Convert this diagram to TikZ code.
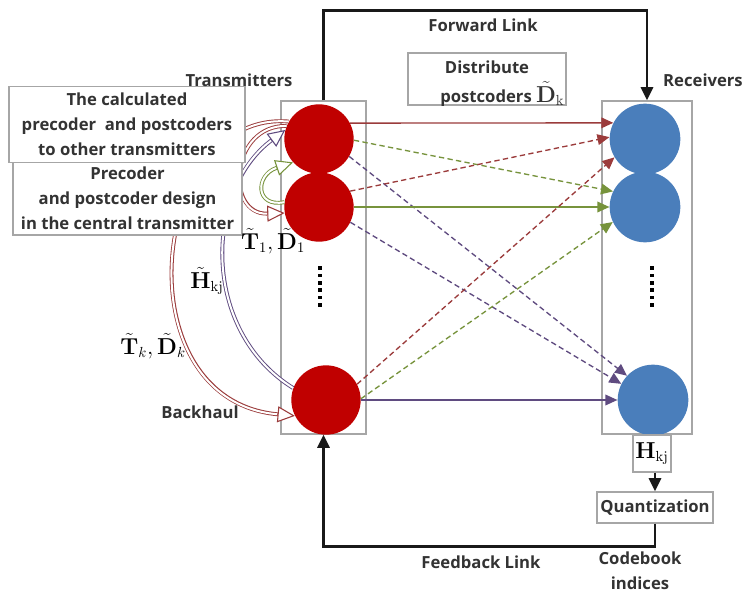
\documentclass[tikz,border=0pt]{standalone}
\usepackage{amsmath}
\usepackage[no-math]{fontspec}
\setmainfont{Open Sans}
\usetikzlibrary{arrows.meta}
\definecolor{tred}{HTML}{C00000}
\definecolor{rblue}{HTML}{4A7EBB}
\definecolor{ared}{HTML}{9B3B3B}
\definecolor{agreen}{HTML}{77933C}
\definecolor{apurple}{HTML}{5F4B80}
\definecolor{bgray}{HTML}{A6A6A6}
\definecolor{txt}{HTML}{333333}
\tikzset{
  gbox/.style={draw=bgray, line width=0.8pt, inner sep=0pt},
  txc/.style={circle, fill=tred, minimum size=52pt, inner sep=0pt},
  rxc/.style={circle, fill=rblue, minimum size=53pt, inner sep=0pt},
  lbl/.style={text=txt, font=\fontsize{12.5}{18.75}\selectfont\bfseries, inner sep=0pt, align=center},
  mlbl/.style={text=black, font=\fontsize{16}{18}\selectfont, inner sep=0pt},
  link/.style={line width=1pt, -{Triangle[length=9pt,width=8pt]}},
  dlink/.style={link, dash pattern=on 4pt off 2.5pt},
  bh/.style={draw=#1, line width=2.9pt,
     -{Triangle[open, length=13pt, width=12pt, fill=white, line width=0.8pt]},
     postaction={draw=white, line width=1.5pt, -, shorten >=13.3pt}},
  blk/.style={line width=2.2pt, draw=black!90, -{Triangle[length=10pt,width=9pt]}},
}
\begin{document}
\begin{tikzpicture}[x=0.75pt,y=-0.75pt]
\useasboundingbox[fill=white] (0,0) rectangle (745,592);

% frames
\node[gbox, minimum width=63.75pt, minimum height=249.75pt] (txbox) at (323.5,267.5) {};
\node[gbox, minimum width=67.5pt, minimum height=249.75pt] (rxbox) at (647,267.5) {};

% circles
\node[txc] (tx1) at (319,139) {};
\node[txc] (tx2) at (319,207) {};
\node[txc] (txk) at (326,400) {};
\node[rxc] (rx1) at (645,139) {};
\node[rxc] (rx2) at (645,207) {};
\node[rxc] (rxk) at (653,400) {};

% vertical dots
\foreach \yy in {268,275.4,282.8,290.2,297.6,305}{
  \fill (318,\yy-1.8) rectangle (322,\yy+1.8);
  \fill (650,\yy-1.8) rectangle (654,\yy+1.8);
}

% links transmitters -> receivers
\draw[link, ared] (tx1.27) -- (rx1.153);
\draw[dlink, agreen] (tx1.-2) -- (rx2.154);
\draw[dlink, apurple] (tx1.-30) -- (rxk.137);
\draw[dlink, ared] (tx2.27) -- (rx1.177);
\draw[link, agreen] (tx2.0) -- (rx2.180);
\draw[dlink, apurple] (tx2.-26) -- (rxk.153);
\draw[dlink, ared] (txk.27) -- (rx1.211);
\draw[dlink, agreen] (txk.2) -- (rx2.205);
\draw[link, apurple] (txk.0) -- (rxk.180);

% backhaul arcs
\draw[bh=apurple] (txk.160) .. controls (200,330) and (205,190) .. (tx1.165);
\draw[bh=ared] (tx1.150) .. controls (150,110) and (120,400) .. (txk.207);
\draw[bh=ared] (tx1.158) .. controls (230,125) and (225,215) .. (tx2.190);
\draw[bh=agreen] (tx2.172) .. controls (255,208) and (255,175) .. (tx1.222);

% left boxes
\node[gbox, fill=white, minimum width=171.75pt, minimum height=60pt] (box2) at (127.5,195) {};
\node[lbl] (box2t) at (127.5,198) {Precoder\\and postcoder design\\in the central transmitter};
\node[gbox, fill=white, minimum width=177pt, minimum height=57pt, lbl] (box1) at (127,124.5) {The calculated\\precoder\ \ and postcoders\\to other transmitters};

% titles
\node[lbl] (ttx) at (239,80) {Transmitters};
\node[lbl] (trx) at (703,80) {Receivers};

% forward link
\draw[blk] (txbox.north) -- ++(0,-90) coordinate (fw) -| (rxbox.north);
\node[lbl] (fwl) at (483,25) {Forward Link};
\node[gbox, minimum width=118.5pt, minimum height=39pt] (dbox) at (487,79) {};
\node[lbl] (dt1) at (487,67) {Distribute};
\node[lbl, anchor=west] (dt2) at (440,94) {postcoders {\fontsize{16}{18}\selectfont$\tilde{\mathbf{D}}_{\mathrm{k}}$}};

% labels on the left
\node[mlbl] (l1) at (273,241) {$\tilde{\mathbf{T}}_1,\tilde{\mathbf{D}}_1$};
\node[mlbl] (l2) at (207,281) {$\tilde{\mathbf{H}}_{\mathrm{kj}}$};
\node[mlbl] (l3) at (153,346) {$\tilde{\mathbf{T}}_k,\tilde{\mathbf{D}}_k$};
\node[lbl] (bhl) at (200,412) {Backhaul};

% feedback path
\node[gbox, minimum width=28.5pt, minimum height=27.75pt, mlbl] (hkj) at (652,453.5) {$\mathbf{H}_{\mathrm{kj}}$};
\node[gbox, minimum width=87pt, minimum height=23.25pt, lbl] (quant) at (655,507.5) {Quantization};
\draw[blk] (hkj.south -| quant.north) -- (quant.north);
\draw[blk] (quant.south) -- ++(0,23) -| (txbox.south);
\node[lbl] (fbl) at (481,562) {Feedback Link};
\node[lbl] (cbi) at (640,571) {Codebook\\indices};
\end{tikzpicture}
\end{document}
